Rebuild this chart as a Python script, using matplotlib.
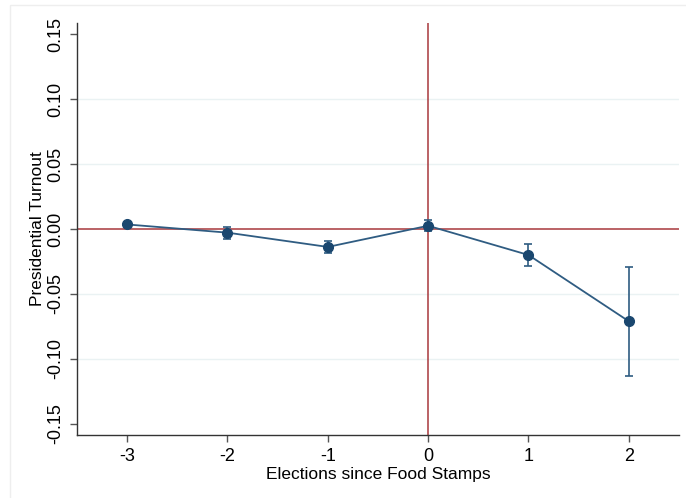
import numpy as np
import matplotlib
matplotlib.use('Agg')
import matplotlib.pyplot as plt
from matplotlib.patches import Rectangle

plt.rcParams['font.family'] = ['Liberation Sans', 'DejaVu Sans']

# datos
elecciones = [-3, -2, -1, 0, 1, 2]
coef = [0.0035, -0.0028, -0.0138, 0.0025, -0.0200, -0.0710]
error = [0.0020, 0.0047, 0.0047, 0.0042, 0.0087, 0.0420]
yticks = [-0.15, -0.10, -0.05, 0.00, 0.05, 0.10, 0.15]

azul = '#1a476f'
rojo = '#a8383c'

fig = plt.figure(figsize=(6.86, 4.98), dpi=100)
ax = fig.add_axes([0.1122, 0.1265, 0.8776, 0.8273])

# marco tenue de la region del grafico
fig.patches.append(Rectangle((0.0146, -0.01), 1.0, 1.0, transform=fig.transFigure,
                             fill=False, edgecolor='#eeeeee', linewidth=1.0))

for yv in [-0.10, -0.05, 0.05, 0.10]:
    ax.axhline(yv, color='#eaf2f3', linewidth=1.0, zorder=0)

ax.axhline(0, color=rojo, linewidth=1.1, zorder=1)
ax.axvline(0, color=rojo, linewidth=1.1, zorder=1)

ax.errorbar(elecciones, coef, yerr=error, fmt='none', ecolor='#2f5c82',
            elinewidth=1.2, capsize=2.8, capthick=1.2, zorder=2)
ax.plot(elecciones, coef, color='#2f5c82', linewidth=1.3, zorder=3)
ax.plot(elecciones, coef, 'o', color=azul, markersize=7, zorder=4)

ax.set_xlim(-3.5, 2.5)
ax.set_ylim(-0.1585, 0.1585)
ax.set_xticks(elecciones)
ax.set_xticklabels([str(e) for e in elecciones])
ax.set_yticks(yticks)
ax.set_yticklabels(['%.2f' % v for v in yticks], rotation=90, va='center')

for lado in ['top', 'right']:
    ax.spines[lado].set_visible(False)
for lado in ['left', 'bottom']:
    ax.spines[lado].set_color('#333333')
    ax.spines[lado].set_linewidth(1.0)

ax.tick_params(axis='both', direction='out', length=5, width=1, color='#555555',
               labelsize=13, pad=4)
ax.set_xlabel('Elections since Food Stamps', fontsize=12.5, labelpad=2)
ax.set_ylabel('Presidential Turnout', fontsize=12.5, labelpad=2)

plt.savefig('out.png', dpi=100)
plt.close()
